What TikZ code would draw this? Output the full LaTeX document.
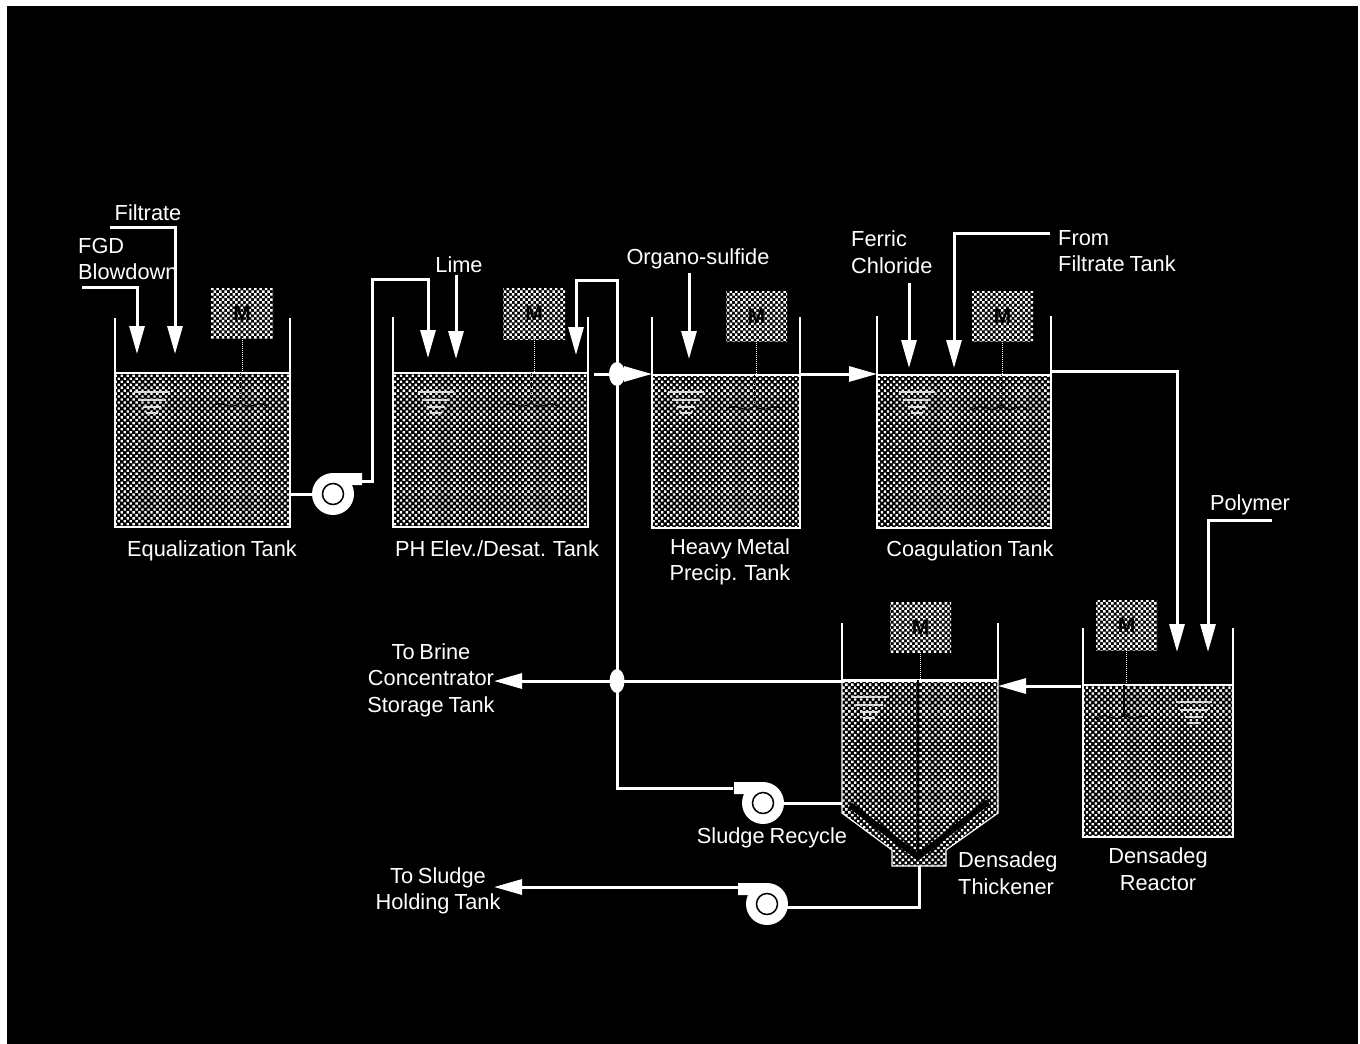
\documentclass[tikz,border=0pt]{standalone}
\usepackage{fontspec}
\setmainfont[WordSpace=0.8]{Liberation Sans}
\usepackage{xcolor}
\usepackage{tikz}
\usetikzlibrary{arrows.meta, patterns.meta}
\tikzset{
  tankbody/.style={draw=white, line width=1.6pt, pattern={Dots[distance=4.2pt,radius=1.65pt,angle=45]}, pattern color=white, inner sep=0pt, outer sep=0pt, anchor=north west},
  motorbox/.style={pattern={Dots[distance=3.8pt,radius=1.75pt,angle=45]}, pattern color=white, inner sep=0pt, outer sep=0pt, anchor=north west, text=black, font=\fontsize{21}{22}\selectfont\bfseries},
  wall/.style={white, line width=1.8pt},
  pipe/.style={white, line width=3pt},
  feed/.style={pipe, -{Triangle[length=28pt,width=15pt]}},
  shaft/.style={black, line width=1.2pt},
  lbl/.style={text=white, font=\fontsize{21.8}{26.5}\selectfont, inner sep=0pt, align=center},
  level/.style={white!85!black, line width=1.2pt}
}
% pump: #1 name, #2 centre, #3 side of the outlet (1 right, -1 left)
\newcommand{\pump}[3]{
  \fill[white, shift={#2}, xscale=#3] (0,-21) -- (29,-21) -- (29,-9) -- (19,-9) -- (17,0) -- (0,0) -- cycle;
  \fill[white, shift={#2}] (0,0) circle (21);
  \node[circle, draw=black, fill=white, line width=1.5pt, minimum size=21pt, inner sep=0pt] (#1) at #2 {};
}
% level marks on the liquid surface
\newcommand{\levelmarks}[2]{
  \draw[level] (#1,#2) -- ++(36,0);
  \draw[level] (#1+4,#2+8) -- ++(28,0);
  \draw[level] (#1+9,#2+15) -- ++(18,0);
  \draw[level] (#1+12,#2+21) -- ++(12,0);
}
% mixer blades under the shaft
\newcommand{\mixer}[2]{
  \draw[black, line width=1.1pt] (#1-29,#2+6) .. controls (#1-20,#2-6) and (#1-10,#2+12) .. (#1,#2) .. controls (#1+10,#2+12) and (#1+20,#2-6) .. (#1+27,#2+6);
}
\begin{document}
\begin{tikzpicture}[x=1pt, y=-1pt]
\useasboundingbox (0,0) rectangle (1360,1044);
\fill[white] (0,0) rectangle (1360,1044);
\fill[black] (7,6) rectangle (1358,1044);

% tanks
\node[tankbody, minimum width=175pt, minimum height=154pt] (equal) at (115,373) {};
\node[tankbody, minimum width=195pt, minimum height=154pt] (desat) at (393,373) {};
\node[tankbody, minimum width=148pt, minimum height=153pt] (metal) at (652,375) {};
\node[tankbody, minimum width=174pt, minimum height=153pt] (coag) at (877,375) {};
\node[tankbody, minimum width=150pt, minimum height=152pt] (react) at (1083,685) {};

% thickener
\draw[draw=white, line width=1.2pt, pattern={Dots[distance=4.2pt,radius=1.65pt,angle=45]}, pattern color=white]
  (842,680) -- (998,680) -- (998,813) -- (946,850) -- (946,866) -- (892,866) -- (892,850) -- (842,813) -- cycle;
\draw[white, line width=3pt] (842,680) -- (998,680);
\node[inner sep=0pt, outer sep=0pt, minimum width=156pt, minimum height=186pt, anchor=north west] (thick) at (842,680) {};
\draw[black, line width=6pt] (850,805) -- (918,857) -- (988,802);

% tank walls
\foreach \tk/\top in {equal/318, desat/317, metal/317, coag/316, react/628, thick/623} {
  \draw[wall] (\tk.north west) -- (\tk.north west |- 0,\top);
  \draw[wall] (\tk.north east) -- (\tk.north east |- 0,\top);
}

% motors
\node[motorbox, minimum width=62pt, minimum height=50pt] (m1) at (211,288) {M};
\node[motorbox, minimum width=62pt, minimum height=51pt] (m2) at (503,288) {M};
\node[motorbox, minimum width=61pt, minimum height=50pt] (m3) at (726,291) {M};
\node[motorbox, minimum width=61pt, minimum height=50pt] (m4) at (972,291) {M};
\node[motorbox, minimum width=61pt, minimum height=50pt] (m5) at (1096,600) {M};
\node[motorbox, minimum width=61pt, minimum height=50pt] (m6) at (890,602) {M};

% shafts
\foreach \mt/\tk in {m1/equal, m2/desat, m3/metal, m4/coag, m5/react, m6/thick} {
  \draw[white, line width=1pt, densely dotted] (\mt.south) -- (\mt.south |- \tk.north);
}
\draw[black, line width=0.8pt, densely dotted] (240,373) -- ++(0,30);
\draw[black, line width=0.8pt, densely dotted] (531,373) -- ++(0,30);
\draw[black, line width=0.8pt, densely dotted] (754,375) -- ++(0,30);
\draw[black, line width=0.8pt, densely dotted] (1001,375) -- ++(0,30);
\draw[shaft] (1124,685) -- ++(0,32);
\draw[shaft] (918,680) -- (918,857);
\mixer{240}{402} \mixer{531}{402} \mixer{755}{405} \mixer{1001}{405} \mixer{1125}{714}

% level marks
\levelmarks{134}{392} \levelmarks{418}{392} \levelmarks{668}{392} \levelmarks{899}{392}
\levelmarks{1176}{702} \levelmarks{851}{697}

% end points
\coordinate (filtin) at (110,227);
\coordinate (fgdin) at (82,287);
\coordinate (limein) at (456,275);
\coordinate (orgin) at (689,273);
\coordinate (ferin) at (909,283);
\coordinate (fromin) at (1050,233);
\coordinate (polyin) at (1272,520);
\coordinate (brineout) at (494,681);
\coordinate (sludgeout) at (494,887);
\coordinate (teea) at (617,374);
\coordinate (teeb) at (617,681);
\coordinate (pumpaout) at (362,481);
\coordinate (pumpbout) at (733,788);
\coordinate (pumpcout) at (738,887);
\coordinate (pumpain) at (333,494);
\coordinate (pumpbin) at (763,803);
\coordinate (pumpcin) at (767,907);
\coordinate (thickout) at (919,866);

% feeds
\draw[feed] (filtin) -| (175,354);
\draw[feed] (fgdin) -| (137,354);
\draw[feed] (limein) -- (456,359);
\draw[feed] (orgin) -- (689,359);
\draw[feed] (ferin) -- (909,368);
\draw[feed] (fromin) -| (954,368);
\draw[feed] (polyin) -| (1208,652);

% process lines
\draw[pipe] (equal.east |- pumpain) -- (pumpain);
\draw[feed] (pumpaout) -- (372,481) -- (372,279) -- (428,279) -- (428,358);
\draw[feed] (pumpbout) -- (teea |- pumpbout) -- (teea |- 0,280) -- (576,280) -- (576,355);
\draw[feed] (594,374) -- (metal.north west |- teea);
\draw[feed] (metal.north east |- teea) -- (coag.north west |- teea);
\draw[feed] (coag.north east |- 0,371) -- (1177,371) -- (1177,652);
\draw[feed] (react.north west) ++(-2,1) -- (998,686);
\draw[feed] (thick.north west |- teeb) -- (brineout);
\draw[pipe] (thick.west |- pumpbin) -- (pumpbin);
\draw[pipe] (thickout) |- (pumpcin);
\draw[feed] (pumpcout) -- (sludgeout);
\fill[white] (teea) ellipse (8 and 12);
\fill[white] (teeb) ellipse (7.5 and 12);

% pumps
\pump{pumpa}{(333,494)}{1}
\pump{pumpb}{(763,803)}{-1}
\pump{pumpc}{(767,904)}{-1}

% labels
\node[lbl] (lfilt) at (148,213) {Filtrate};
\node[lbl, anchor=west, align=left] (lfgd) at (78,259) {FGD\\Blowdown};
\node[lbl] (llime) at (459,265) {Lime};
\node[lbl] (lorg) at (698,259) {Organo-sulfide};
\node[lbl, anchor=west, align=left] (lfer) at (851,252) {Ferric\\Chloride};
\node[lbl, anchor=west, align=left] (lfrom) at (1058,251) {From\\Filtrate Tank};
\node[lbl] (lpoly) at (1250,505) {Polymer};
\node[lbl] (lequal) at (212,551) {Equalization Tank};
\node[lbl] (ldesat) at (497,549) {PH Elev./Desat. Tank};
\node[lbl] (lmetal) at (730,562) {Heavy Metal\\Precip. Tank};
\node[lbl] (lcoag) at (970,551) {Coagulation Tank};
\node[lbl] (lbrine) at (431,680) {To Brine\\Concentrator\\Storage Tank};
\node[lbl] (lrec) at (772,838) {Sludge Recycle};
\node[lbl, anchor=west, align=left] (lthick) at (958,873) {Densadeg\\Thickener};
\node[lbl] (lreact) at (1158,869) {Densadeg\\Reactor};
\node[lbl] (lsludge) at (438,891) {To Sludge\\Holding Tank};
\end{tikzpicture}
\end{document}
